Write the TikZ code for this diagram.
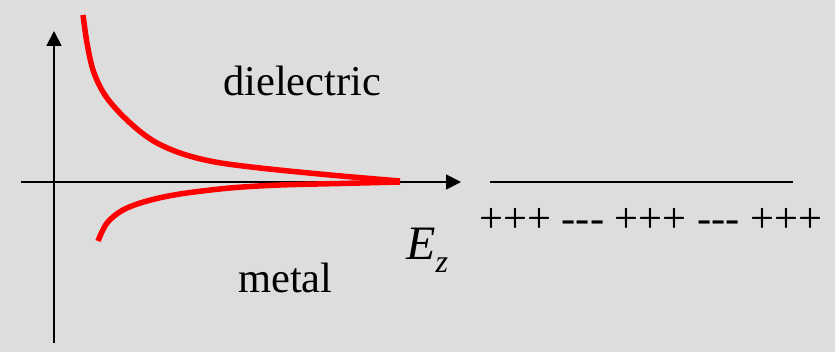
\documentclass[tikz,border=0pt]{standalone}
\usepackage{fontspec}
\setmainfont{Liberation Serif}
\usetikzlibrary{arrows.meta}
\definecolor{bg}{RGB}{221,221,221}
\definecolor{curvered}{RGB}{255,0,0}
\tikzset{
  axisline/.style={line width=1.8pt, black},
  axisarrow/.style={axisline, -{Triangle[length=15pt,width=15pt]}},
  fieldcurve/.style={line width=5.5pt, curvered, line cap=butt},
  label/.style={inner sep=0pt, anchor=base west, font=\fontsize{42.5}{48}\selectfont}
}
\begin{document}
\begin{tikzpicture}[x=1pt,y=-1pt]
\fill[bg] (0,0) rectangle (835,352);
\useasboundingbox (0,0) rectangle (835,352);
% axes
\coordinate (vbot) at (54,343);
\coordinate (vtop) at (54,31);
\coordinate (hleft) at (21,182);
\coordinate (hright) at (461,182);
\draw[axisarrow] (vbot) -- (vtop);
\draw[axisarrow] (hleft) -- (hright);
% red curves
\draw[fieldcurve] plot[smooth, tension=0.55] coordinates
  {(83,15) (87,43) (93,70) (103,92) (117,110) (137,129) (157,143) (183,154) (215,162) (260,168) (330,175) (400,181)};
\draw[fieldcurve] plot[smooth, tension=0.55] coordinates
  {(98,241) (107,223) (123,210) (147,201) (180,194) (230,188) (280,185) (340,183.5) (400,182)};
% surface line
\coordinate (sl) at (490,182);
\coordinate (sr) at (793,182);
\draw[line width=1.8pt] (sl) -- (sr);
% labels
\node[label] (diel) at (223,96) {dielectric};
\node[label] (metal) at (238,293) {metal};
\node[label] (charges) at (479,233) {+++ {-}{-}{-} +++ {-}{-}{-} +++};
\node[inner sep=0pt, anchor=base west] (ez) at (406,260)
  {\fontsize{48}{52}\selectfont\textit{E}\raisebox{-13pt}{\fontsize{32}{36}\selectfont\textit{z}}};
\end{tikzpicture}
\end{document}
